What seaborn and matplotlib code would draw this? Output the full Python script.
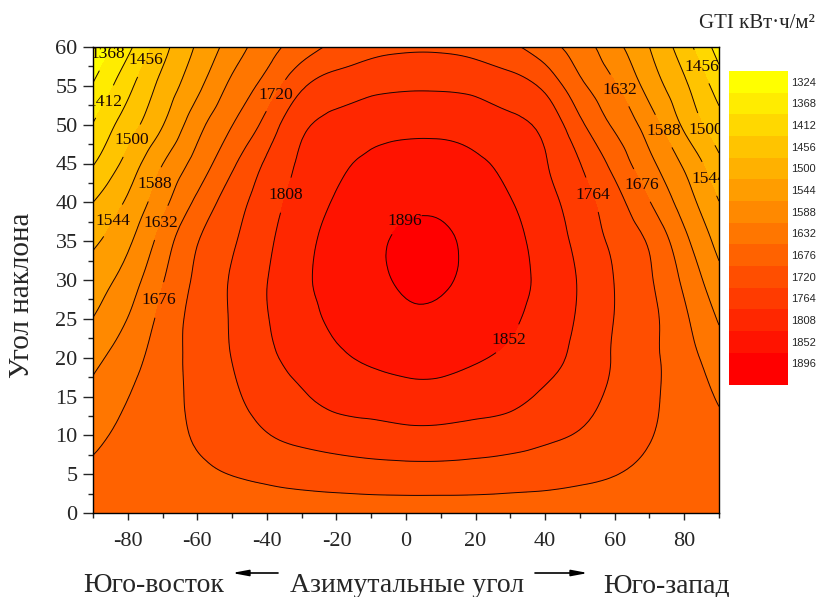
import numpy as np
import matplotlib
matplotlib.use("Agg")
import matplotlib.pyplot as plt
import matplotlib.tri as mtri
import seaborn as sns
from matplotlib.colors import ListedColormap, BoundaryNorm
from matplotlib.cm import ScalarMappable
from matplotlib.ticker import MultipleLocator

# оси: азимут (град) и угол наклона (град)
azimuth = [-90, -80, -70, -60, -50, -40, -30, -20, -10, 0, 10, 20, 30, 40, 50, 60, 70, 80, 90]
tilt = [0, 5, 10, 15, 20, 25, 30, 35, 40, 45, 50, 55, 60]

# уровни изолиний / шкала, кВт*ч/м2
levels = [1324, 1368, 1412, 1456, 1500, 1544, 1588, 1632, 1676, 1720, 1764, 1808, 1852, 1896]

# GTI по столбцам азимута, угол наклона 0..60 (снизу вверх)
gti_m90 = [1698, 1685, 1665, 1644, 1620, 1589, 1564, 1537, 1500, 1453, 1414, 1371, 1336]
gti_m80 = [1698, 1695, 1688, 1675, 1657, 1633, 1608, 1580, 1551, 1516, 1479, 1443, 1401]
gti_m70 = [1698, 1703, 1706, 1703, 1698, 1689, 1673, 1651, 1618, 1587, 1542, 1514, 1484]
gti_m60 = [1698, 1712, 1724, 1730, 1734, 1735, 1729, 1718, 1686, 1649, 1616, 1577, 1550]
gti_m50 = [1698, 1721, 1742, 1756, 1765, 1768, 1768, 1759, 1743, 1712, 1675, 1642, 1608]
gti_m40 = [1698, 1729, 1762, 1783, 1798, 1806, 1807, 1799, 1788, 1771, 1736, 1693, 1658]
gti_m30 = [1698, 1736, 1775, 1803, 1824, 1835, 1843, 1839, 1828, 1815, 1799, 1757, 1698]
gti_m20 = [1698, 1741, 1785, 1822, 1845, 1861, 1868, 1865, 1856, 1842, 1819, 1786, 1730]
gti_m10 = [1698, 1745, 1791, 1829, 1858, 1874, 1885, 1886, 1877, 1861, 1833, 1797, 1750]
gti_0 = [1698, 1747, 1796, 1836, 1866, 1886, 1903, 1904, 1888, 1868, 1840, 1802, 1757]
gti_p10 = [1698, 1747, 1796, 1836, 1866, 1885, 1903, 1904, 1887, 1868, 1840, 1802, 1757]
gti_p20 = [1698, 1745, 1791, 1829, 1856, 1872, 1883, 1884, 1875, 1859, 1831, 1797, 1748]
gti_p30 = [1698, 1741, 1785, 1820, 1843, 1859, 1866, 1863, 1854, 1840, 1817, 1784, 1728]
gti_p40 = [1698, 1736, 1773, 1801, 1822, 1833, 1840, 1835, 1824, 1811, 1795, 1753, 1694]
gti_p50 = [1698, 1729, 1760, 1781, 1796, 1802, 1804, 1795, 1784, 1765, 1730, 1687, 1654]
gti_p60 = [1698, 1721, 1740, 1754, 1760, 1763, 1763, 1755, 1737, 1706, 1669, 1636, 1602]
gti_p70 = [1698, 1712, 1722, 1728, 1730, 1731, 1725, 1714, 1678, 1643, 1610, 1571, 1544]
gti_p80 = [1698, 1703, 1704, 1701, 1694, 1684, 1667, 1644, 1612, 1581, 1536, 1508, 1476]
gti_p90 = [1698, 1694, 1686, 1672, 1653, 1628, 1602, 1574, 1545, 1510, 1473, 1436, 1393]

Z = np.column_stack([gti_m90, gti_m80, gti_m70, gti_m60, gti_m50, gti_m40, gti_m30,
                     gti_m20, gti_m10, gti_0, gti_p10, gti_p20, gti_p30, gti_p40,
                     gti_p50, gti_p60, gti_p70, gti_p80, gti_p90])

# где стоят подписи изолиний
label_spots = {
    1368: [(-85.5, 59)],
    1412: [(-88, 53.3)],
    1456: [(-74.5, 58.2), (83.5, 57.2)],
    1500: [(-80, 48.2), (85.5, 49.2)],
    1544: [(-84, 37.6), (86.5, 42.9)],
    1588: [(-72.8, 42.4), (74.2, 49.2)],
    1632: [(-70.6, 37.4), (61.4, 54.4)],
    1676: [(-70.7, 27.4), (67.5, 42.1)],
    1720: [(-36.5, 53.5)],
    1764: [(53.1, 40.9)],
    1808: [(-34.4, 40.9)],
    1852: [(30.4, 22)],
    1896: [(0.3, 37.1)],
}

sns.set_style("ticks")
plt.rcParams["font.family"] = ["Liberation Serif", "DejaVu Serif"]
plt.rcParams["axes.unicode_minus"] = False

fig = plt.figure(figsize=(8.19, 5.97), dpi=100)
ax = fig.add_axes([93 / 819, 1 - 513 / 597, 626 / 819, 466 / 597])

# сглаживание сетки средствами matplotlib (кубическая интерполяция на треугольниках)
AZ, TT = np.meshgrid(azimuth, tilt)
tri = mtri.Triangulation(AZ.ravel(), TT.ravel())
tri_fine, z_fine = mtri.UniformTriRefiner(tri).refine_field(Z.ravel(), subdiv=3)

pal = sns.blend_palette(["#ffff00", "#ff0000"], n_colors=len(levels))
ax.tricontourf(tri_fine, z_fine, levels=[1200] + levels[1:] + [1990], colors=pal)

line_col = "#1a0505"
for lev in levels:
    cs = ax.tricontour(tri_fine, z_fine, levels=[lev], colors=line_col, linewidths=0.7)
    if lev in label_spots:
        txts = ax.clabel(cs, manual=label_spots[lev], inline=True, inline_spacing=1,
                         fmt="%d", fontsize=12.5, colors=line_col)
        for t in txts:
            t.set_rotation(0)

ax.set_xlim(-90, 90)
ax.set_ylim(0, 60)
ax.set_xticks([-80, -60, -40, -20, 0, 20, 40, 60, 80])
ax.set_yticks(range(0, 61, 5))
ax.xaxis.set_minor_locator(MultipleLocator(10))
ax.yaxis.set_minor_locator(MultipleLocator(2.5))
ax.tick_params(axis="x", which="major", direction="out", length=5, width=1, labelsize=16, pad=8.5)
ax.tick_params(axis="y", which="major", direction="out", length=7, width=1, labelsize=16, pad=4)
ax.tick_params(which="minor", direction="out", length=3.5, width=1)
ax.tick_params(top=False, right=False, which="both")
for s in ax.spines.values():
    s.set_color("black")
    s.set_linewidth(1)
    s.set_visible(True)

# шкала справа
bounds = [levels[0] - 22] + [v + 22 for v in levels] + [1940]
cmap_cb = ListedColormap(list(pal) + [pal[-1]])
norm_cb = BoundaryNorm(bounds, cmap_cb.N)
cax = fig.add_axes([729 / 819, 1 - 385 / 597, 59 / 819, 314 / 597])
cb = fig.colorbar(ScalarMappable(norm=norm_cb, cmap=cmap_cb), cax=cax, ticks=levels,
                  spacing="proportional")
cb.outline.set_visible(False)
cax.invert_yaxis()
cax.minorticks_off()
cax.tick_params(which="both", length=0, labelsize=8, pad=2)
for t in cax.get_yticklabels():
    t.set_family(["Liberation Sans", "DejaVu Sans"])

fig.text(815 / 819, 1 - 23 / 597, "GTI кВт·ч/м²", ha="right", va="center", fontsize=15)

# подписи осей
fig.text(22 / 819, 1 - 295 / 597, "Угол наклона", rotation=90, ha="center", va="center", fontsize=21)
fig.text(154 / 819, 1 - 592 / 597, "Юго-восток", ha="center", va="baseline", fontsize=20)
fig.text(407 / 819, 1 - 592 / 597, "Азимутальные угол", ha="center", va="baseline", fontsize=20)
fig.text(667 / 819, 1 - 592 / 597, "Юго-запад", ha="center", va="baseline", fontsize=20)

arrow = dict(arrowstyle="-|>,head_length=0.8,head_width=0.15", color="black", lw=1.2,
             mutation_scale=12, shrinkA=0, shrinkB=0)
ax.annotate("", xy=(232 / 819, 1 - 573 / 597), xytext=(278 / 819, 1 - 573 / 597),
            xycoords="figure fraction", textcoords="figure fraction", arrowprops=arrow)
ax.annotate("", xy=(588 / 819, 1 - 573 / 597), xytext=(535 / 819, 1 - 573 / 597),
            xycoords="figure fraction", textcoords="figure fraction", arrowprops=arrow)

fig.savefig("out.png", dpi=100)
